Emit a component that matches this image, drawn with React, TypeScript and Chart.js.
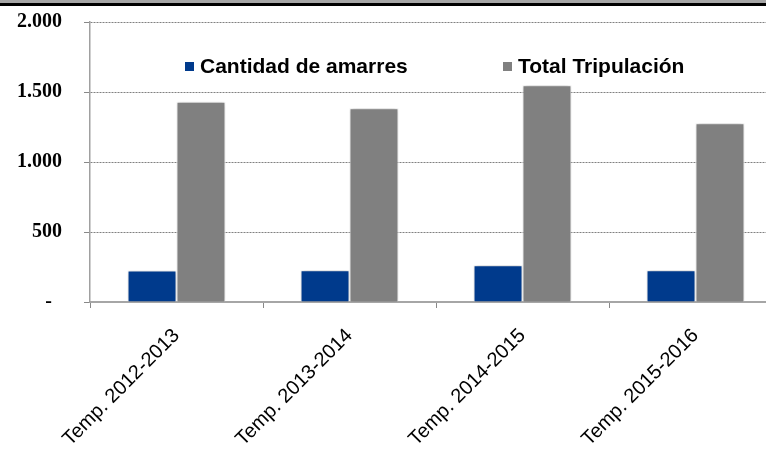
import React, { useEffect, useRef } from "react";
import { Chart, registerables } from "chart.js";

Chart.register(...registerables);

const categories = ["Temp. 2012-2013", "Temp. 2013-2014", "Temp. 2014-2015", "Temp. 2015-2016"];
const amarres = [225, 226, 262, 226];
const tripulacion = [1430, 1384, 1548, 1277];
const seriesLabels = ["Cantidad de amarres", "Total Tripulación"];
const seriesColors = ["#003A8C", "#808080"];
const yTickLabels = ["-  ", "500", "1.000", "1.500", "2.000"];

const shadowPlugin = {
  id: "barShadow",
  beforeDatasetsDraw(chart: any) {
    const ctx = chart.ctx;
    ctx.save();
    ctx.shadowColor = "rgba(0,0,0,0.28)";
    ctx.shadowBlur = 5;
    ctx.shadowOffsetX = 0;
    ctx.shadowOffsetY = 0;
  },
  afterDatasetsDraw(chart: any) {
    chart.ctx.restore();
  },
};

const legendPlugin = {
  id: "innerLegend",
  afterDraw(chart: any) {
    const ctx = chart.ctx;
    const ca = chart.chartArea;
    const offsets = [95, 413];
    const y = ca.top + 44;
    ctx.save();
    ctx.font = 'bold 21px "Liberation Sans", Arial, sans-serif';
    ctx.textBaseline = "middle";
    ctx.textAlign = "left";
    chart.data.datasets.forEach((ds: any, i: number) => {
      const x = ca.left + offsets[i];
      ctx.fillStyle = ds.backgroundColor;
      ctx.fillRect(x, y - 4, 9, 9);
      ctx.fillStyle = "#000";
      ctx.fillText(ds.label, x + 15, y + 1);
    });
    ctx.restore();
  },
};

export default function App() {
  const ref = useRef<HTMLCanvasElement | null>(null);

  useEffect(() => {
    document.body.style.margin = "0";
    document.body.style.overflow = "hidden";
    const canvas = ref.current;
    if (!canvas) return;
    const chart = new Chart(canvas, {
      type: "bar",
      data: {
        labels: categories,
        datasets: [
          {
            label: seriesLabels[0],
            data: amarres,
            backgroundColor: seriesColors[0],
            borderColor: "#ffffff",
            borderWidth: 1,
            barPercentage: 1,
            categoryPercentage: 0.566,
          },
          {
            label: seriesLabels[1],
            data: tripulacion,
            backgroundColor: seriesColors[1],
            borderColor: "#ffffff",
            borderWidth: 1,
            barPercentage: 1,
            categoryPercentage: 0.566,
          },
        ],
      },
      options: {
        responsive: false,
        animation: false,
        events: [],
        layout: { padding: { top: 22, right: 18, left: 0, bottom: 0 } },
        plugins: { legend: { display: false }, tooltip: { enabled: false } },
        scales: {
          x: {
            grid: {
              offset: true,
              drawOnChartArea: false,
              drawTicks: true,
              tickLength: 6,
              color: "#888888",
              lineWidth: 1,
            },
            border: { display: true, color: "#a6a6a6", width: 2 },
            ticks: {
              minRotation: 45,
              maxRotation: 45,
              color: "#000",
              padding: 16,
              font: { family: '"Liberation Sans", Arial, sans-serif', size: 20 },
            },
            afterFit: (s: any) => {
              s.height = 150;
            },
          },
          y: {
            min: 0,
            max: 2000,
            ticks: {
              stepSize: 500,
              color: "#000",
              padding: 22,
              font: { family: '"Liberation Serif", "Times New Roman", serif', size: 20, weight: "bold" },
              callback: (_v: any, i: number) => yTickLabels[i],
            },
            grid: {
              color: "#808080",
              lineWidth: 1,
              tickLength: 6,
              tickColor: "#888888",
              tickBorderDash: [],
            },
            border: { display: true, color: "#a0a0a0", width: 1.5, dash: [2, 1] },
            afterFit: (s: any) => {
              s.width = 90;
              s.paddingTop = 12;
              s.paddingBottom = 12;
            },
          },
        },
      },
      plugins: [shadowPlugin, legendPlugin],
    } as any);
    return () => chart.destroy();
  }, []);

  return (
    <div style={{ position: "relative", width: 766, height: 452, overflow: "hidden", background: "#fff" }}>
      <canvas ref={ref} width={800} height={452} style={{ position: "absolute", left: 0, top: 0, width: 800, height: 452 }} />
      <div style={{ position: "absolute", left: 0, top: 0, width: 766, height: 3, background: "#a6a6a6" }} />
      <div style={{ position: "absolute", left: 0, top: 3, width: 766, height: 3, background: "#000" }} />
    </div>
  );
}
